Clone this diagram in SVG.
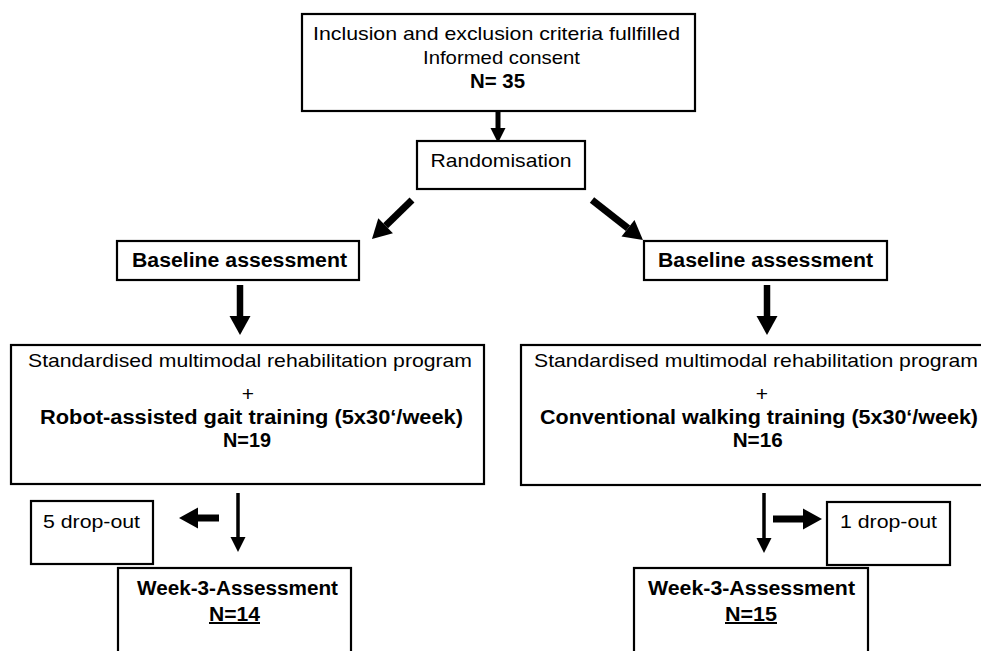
<svg xmlns="http://www.w3.org/2000/svg" width="981" height="651" viewBox="0 0 981 651">
<style>
.box{fill:#fff;stroke:#000;stroke-width:2.2}
.t{font-family:"Liberation Sans",Arial,sans-serif;font-size:18.5px;fill:#000;text-anchor:middle}
.b{font-weight:bold;font-size:20px}
.p{font-size:21px}
.u{text-decoration:underline}
.sh{stroke:#000;fill:none}
</style>
<defs>
<marker id="hb" markerUnits="userSpaceOnUse" markerWidth="20" markerHeight="22" refX="0" refY="10.5" orient="auto" overflow="visible">
<path d="M0,0 L19,10.5 L0,21 z" fill="#000"/>
</marker>
<marker id="hm" markerUnits="userSpaceOnUse" markerWidth="16" markerHeight="16" refX="0" refY="7.5" orient="auto" overflow="visible">
<path d="M0,0 L15,7.5 L0,15 z" fill="#000"/>
</marker>
</defs>
<rect width="981" height="651" fill="#fff"/>
<g id="connectors">
<line class="sh" x1="498" y1="111" x2="498" y2="128" stroke-width="5" marker-end="url(#hm)"/>
<line class="sh" x1="412" y1="200" x2="385.6" y2="225.7" stroke-width="7" marker-end="url(#hb)"/>
<line class="sh" x1="592" y1="200" x2="628" y2="228.3" stroke-width="7" marker-end="url(#hb)"/>
<line class="sh" x1="240" y1="285" x2="240" y2="316" stroke-width="6.5" marker-end="url(#hb)"/>
<line class="sh" x1="767" y1="285" x2="767" y2="316" stroke-width="6.5" marker-end="url(#hb)"/>
<line class="sh" x1="238" y1="493" x2="238" y2="537" stroke-width="3.5" marker-end="url(#hm)"/>
<line class="sh" x1="764" y1="493" x2="764" y2="538" stroke-width="3.5" marker-end="url(#hm)"/>
<line class="sh" x1="219" y1="518" x2="198" y2="518" stroke-width="7" marker-end="url(#hb)"/>
<line class="sh" x1="773" y1="519" x2="803" y2="519" stroke-width="7" marker-end="url(#hb)"/>
</g>
<g id="inclusion">
<rect class="box" x="302" y="14" width="393" height="97"/>
<text class="t" x="496.5" y="40" textLength="367" lengthAdjust="spacingAndGlyphs">Inclusion and exclusion criteria fullfilled</text>
<text class="t" x="501.5" y="64" textLength="157" lengthAdjust="spacingAndGlyphs">Informed consent</text>
<text class="t b" x="497.5" y="88" textLength="55" lengthAdjust="spacingAndGlyphs">N= 35</text>
</g>
<g id="randomisation">
<rect class="box" x="417" y="141" width="168" height="48"/>
<text class="t" x="501" y="167" textLength="141" lengthAdjust="spacingAndGlyphs">Randomisation</text>
</g>
<g id="baseline-left">
<rect class="box" x="117" y="241" width="242" height="39"/>
<text class="t b" x="239.5" y="267" textLength="215" lengthAdjust="spacingAndGlyphs">Baseline assessment</text>
</g>
<g id="baseline-right">
<rect class="box" x="644" y="241" width="243" height="39"/>
<text class="t b" x="765.5" y="267" textLength="215" lengthAdjust="spacingAndGlyphs">Baseline assessment</text>
</g>
<g id="program-left">
<rect class="box" x="11" y="345" width="473" height="139"/>
<text class="t" x="250" y="367" textLength="444" lengthAdjust="spacingAndGlyphs">Standardised multimodal rehabilitation program</text>
<text class="t p" x="248" y="401">+</text>
<text class="t b" x="251.5" y="424" textLength="423" lengthAdjust="spacingAndGlyphs">Robot-assisted gait training (5x30&#8216;/week)</text>
<text class="t b" x="247" y="447" textLength="48" lengthAdjust="spacingAndGlyphs">N=19</text>
</g>
<g id="program-right">
<rect class="box" x="521" y="345" width="482" height="140"/>
<text class="t" x="756" y="367" textLength="444" lengthAdjust="spacingAndGlyphs">Standardised multimodal rehabilitation program</text>
<text class="t p" x="762" y="401">+</text>
<text class="t b" x="759" y="424" textLength="438" lengthAdjust="spacingAndGlyphs">Conventional walking training (5x30&#8216;/week)</text>
<text class="t b" x="757.7" y="447" textLength="50" lengthAdjust="spacingAndGlyphs">N=16</text>
</g>
<g id="dropout-left">
<rect class="box" x="31" y="501" width="122" height="63"/>
<text class="t" x="91.5" y="528" textLength="97" lengthAdjust="spacingAndGlyphs">5 drop-out</text>
</g>
<g id="dropout-right">
<rect class="box" x="827" y="502" width="123" height="63"/>
<text class="t" x="888.5" y="528" textLength="97" lengthAdjust="spacingAndGlyphs">1 drop-out</text>
</g>
<g id="week3-left">
<rect class="box" x="118" y="568" width="233" height="100"/>
<text class="t b" x="237.5" y="595" textLength="201" lengthAdjust="spacingAndGlyphs">Week-3-Assessment</text>
<text class="t b u" x="234.5" y="621" textLength="51" lengthAdjust="spacingAndGlyphs">N=14</text>
</g>
<g id="week3-right">
<rect class="box" x="634" y="568" width="234" height="100"/>
<text class="t b" x="751.5" y="595" textLength="207" lengthAdjust="spacingAndGlyphs">Week-3-Assessment</text>
<text class="t b u" x="751" y="621" textLength="52" lengthAdjust="spacingAndGlyphs">N=15</text>
</g>
</svg>
